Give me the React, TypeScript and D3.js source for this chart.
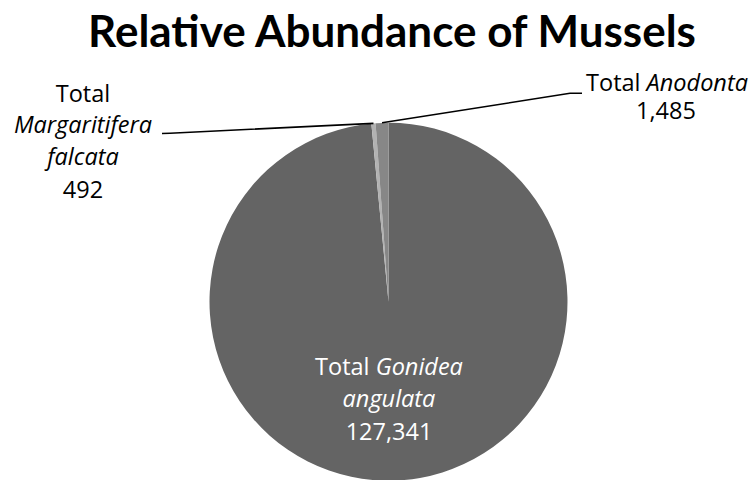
import React from "react";
import * as d3 from "d3";

const species = ["Gonidea angulata", "Margaritifera falcata", "Anodonta"];
const totals = [127341, 492, 1485];
const colors = ["#646464", "#b2b2b2", "#878787"];
const title = "Relative Abundance of Mussels";

const W = 755;
const H = 480;
const TFONT = "Lato, 'Open Sans', sans-serif";
const FONT = "'Open Sans', Lato, sans-serif";

export default function App() {
  const cx = 388.5;
  const cy = 301.7;
  const r = 179;
  const data = species.map((s, i) => ({ name: s, value: totals[i], color: colors[i] }));
  const pie = d3.pie<any>().sort(null).value((d: any) => d.value).startAngle(0).endAngle(2 * Math.PI);
  const arcs = pie(data);
  const arc = d3.arc<any>().innerRadius(0).outerRadius(r);
  const rim = d3.arc<any>().innerRadius(r).outerRadius(r);
  const fmt = d3.format(",");

  const margP = rim.centroid(arcs[1] as any);
  const anoP = rim.centroid(arcs[2] as any);

  const leftLine = d3.line()([
    [162, 133.5],
    [170, 133.2],
    [cx + margP[0], cy + margP[1]],
  ] as any);
  const rightLine = d3.line()([
    [cx + anoP[0], cy + anoP[1]],
    [570, 93.3],
    [582, 93.3],
  ] as any);

  const lbl = { fontFamily: FONT, fontSize: 23.5 };

  return (
    <svg width={W} height={H} style={{ display: "block", position: "absolute", left: 0, top: 0 }}>
      <rect width={W} height={H} fill="#fff" />
      <text x={392} y={47.3} textAnchor="middle" fontFamily={TFONT} fontWeight={700} fontSize={44} fill="#000">
        {title}
      </text>
      <g transform={`translate(${cx},${cy})`}>
        {arcs.map((a, i) => (
          <path key={i} d={arc(a as any) as string} fill={a.data.color} />
        ))}
      </g>
      <path d={leftLine as string} fill="none" stroke="#000" strokeWidth={1.6} />
      <path d={rightLine as string} fill="none" stroke="#000" strokeWidth={1.6} />

      {/* Margaritifera label */}
      <g {...lbl} fill="#000" textAnchor="middle">
        <text x={83} y={101.5}>Total</text>
        <text x={83} y={133.3} fontStyle="italic">Margaritifera</text>
        <text x={83} y={165} fontStyle="italic">falcata</text>
        <text x={83} y={198}>{fmt(totals[1])}</text>
      </g>

      {/* Anodonta label */}
      <g {...lbl} fill="#000" textAnchor="middle">
        <text x={667} y={90.7}>
          Total <tspan fontStyle="italic">{species[2]}</tspan>
        </text>
        <text x={666} y={119}>{fmt(totals[2])}</text>
      </g>

      {/* Gonidea label */}
      <g {...lbl} fill="#fff" textAnchor="middle">
        <text x={389} y={375}>
          Total <tspan fontStyle="italic">Gonidea</tspan>
        </text>
        <text x={389} y={406.7} fontStyle="italic">angulata</text>
        <text x={389} y={440}>{fmt(totals[0])}</text>
      </g>
    </svg>
  );
}
